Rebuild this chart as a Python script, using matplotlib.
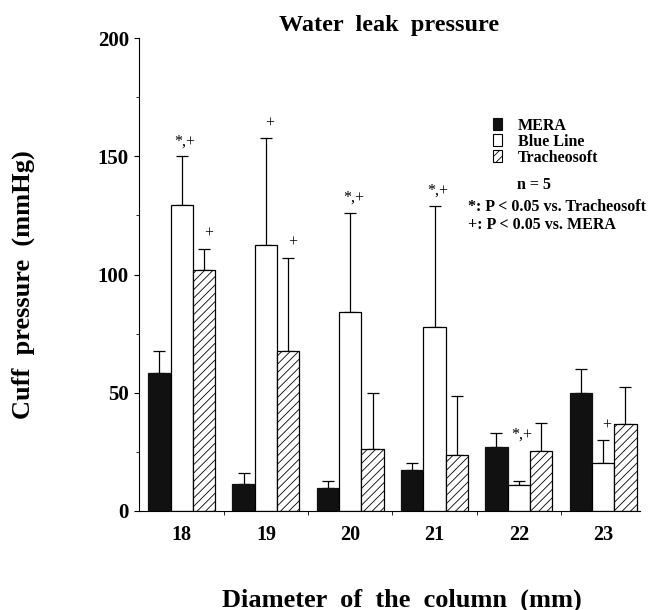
import numpy as np
import matplotlib
matplotlib.use("Agg")
import matplotlib.pyplot as plt
from matplotlib.patches import Patch
from matplotlib.ticker import MultipleLocator, FixedLocator

plt.rcParams['font.family'] = ['Liberation Serif', 'DejaVu Serif']
plt.rcParams['hatch.linewidth'] = 0.6

# data (mean and upper SD, mmHg)
diameters = ['18', '19', '20', '21', '22', '23']
series = ['MERA', 'Blue Line', 'Tracheosoft']
mera = [58.5, 11.3, 9.9, 17.5, 27.2, 49.7]
mera_sd = [9.1, 4.6, 2.9, 2.9, 5.6, 10.3]
blue = [129.5, 112.3, 84.2, 77.6, 11.0, 20.3]
blue_sd = [20.4, 45.3, 41.8, 51.4, 1.8, 9.6]
trach = [102.1, 67.8, 26.2, 23.5, 25.2, 36.6]
trach_sd = [8.8, 39.1, 23.7, 25.1, 12.0, 15.7]
blue_marks = ['*,+', '+', '*,+', '*,+', '*,+', '+']
trach_marks = ['+', '+', '', '', '', '']

# a few marks sit higher than the others
blue_pad = [3, 3, 3, 3, 16, 3]
trach_pad = [3, 3, 3, 3, 3, 3]

fig = plt.figure(figsize=(6.5, 6.1), dpi=100)
ax = fig.add_axes([0.2138, 0.1623, 0.771, 0.7754])

x = np.arange(len(diameters))
w = 0.265
styles = [dict(color='#111111', edgecolor='#111111'),
          dict(color='white', edgecolor='black'),
          dict(color='white', edgecolor='black', hatch='////')]
vals = [mera, blue, trach]
sds = [mera_sd, blue_sd, trach_sd]

for i in range(3):
    xs = x + (i - 1) * w
    ax.bar(xs, vals[i], width=w, linewidth=0.9, zorder=2, **styles[i])
    ax.errorbar(xs, vals[i], yerr=[np.zeros(len(x)), sds[i]], fmt='none',
                ecolor='black', elinewidth=0.9, capsize=4, capthick=0.9, zorder=1)

for xi, v, s, m, p in zip(x, blue, blue_sd, blue_marks, blue_pad):
    ax.text(xi + 0.04, v + s + p, m, ha='center', va='bottom', fontsize=11.5)
for xi, v, s, m, p in zip(x + w, trach, trach_sd, trach_marks, trach_pad):
    ax.text(xi + 0.05, v + s + p, m, ha='center', va='bottom', fontsize=11.5)

ax.set_xlim(-0.507, 5.44)
ax.set_ylim(0, 200)
ax.spines['top'].set_visible(False)
ax.spines['right'].set_visible(False)

ax.set_xticks(x)
ax.set_xticklabels(diameters, fontsize=14.5, fontweight='bold')
ax.tick_params(axis='x', which='major', length=0, pad=10)
ax.xaxis.set_minor_locator(FixedLocator(x[:-1] + 0.5))
ax.tick_params(axis='x', which='minor', length=3, direction='out')

ax.yaxis.set_major_locator(MultipleLocator(50))
ax.yaxis.set_minor_locator(MultipleLocator(25))
ax.tick_params(axis='y', which='major', length=3.6, pad=3.6, direction='out', labelsize=15)
ax.tick_params(axis='y', which='minor', length=2, direction='out')
for lab in ax.get_yticklabels():
    lab.set_fontweight('bold')

ax.set_ylabel('Cuff  pressure  (mmHg)', fontsize=19, fontweight='bold')
ax.yaxis.set_label_coords(-0.2076, 0.478)
ax.set_xlabel('Diameter  of  the  column  (mm)', fontsize=19, fontweight='bold')
ax.xaxis.set_label_coords(0.525, -0.163)
ax.set_title('Water  leak  pressure', fontsize=17.5, fontweight='bold', pad=5)

handles = [Patch(facecolor=styles[i]['color'], edgecolor=styles[i]['edgecolor'],
                 hatch=styles[i].get('hatch'), linewidth=0.8) for i in range(3)]
ax.legend(handles, series, loc='upper left', bbox_to_anchor=(0.678, 0.862),
          frameon=False, prop={'weight': 'bold', 'size': 11.5},
          handlelength=0.55, handleheight=0.7, handletextpad=1.0, labelspacing=0.0)

ax.text(0.754, 0.689, 'n = 5', transform=ax.transAxes, va='center',
        fontsize=11.5, fontweight='bold')
ax.text(0.657, 0.643, '*: P < 0.05 vs. Tracheosoft', transform=ax.transAxes,
        va='center', fontsize=11.5, fontweight='bold')
ax.text(0.657, 0.605, '+: P < 0.05 vs. MERA', transform=ax.transAxes,
        va='center', fontsize=11.5, fontweight='bold')

fig.savefig('out.png', dpi=100)
